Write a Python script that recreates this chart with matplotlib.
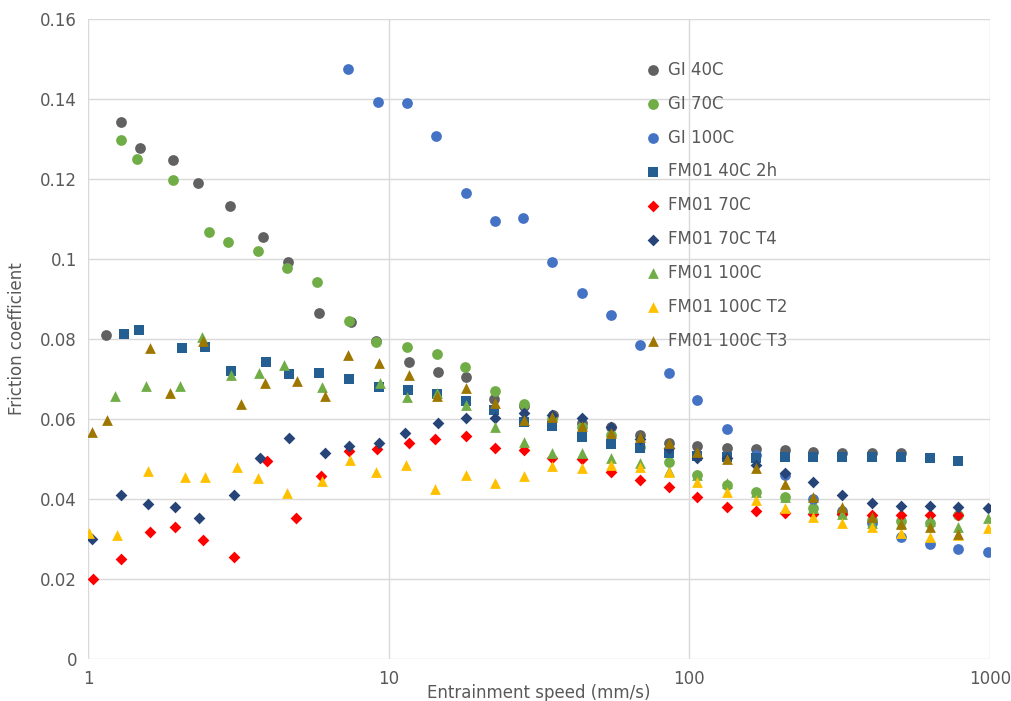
#!/usr/bin/env python3

import matplotlib
matplotlib.use("Agg")
import matplotlib.pyplot as plt
from matplotlib.ticker import FixedLocator, FuncFormatter

# DATA
gi40_x = [1.145, 1.285, 1.49, 1.92, 2.32, 2.97, 3.83, 4.63, 5.88, 7.47, 9.1, 11.66, 14.6, 18.1, 22.4,
          28.1, 35.1, 43.9, 54.9, 68.6, 85.6, 106, 133, 166, 208, 258, 323, 405, 505]
gi40_y = [0.081, 0.1343, 0.1277, 0.1247, 0.1189, 0.1132, 0.1055, 0.0992, 0.0864, 0.0842, 0.0796, 0.0742,
          0.0718, 0.0706, 0.0649, 0.0633, 0.061, 0.0589, 0.0581, 0.056, 0.0539, 0.0533, 0.0527, 0.0525,
          0.0522, 0.0518, 0.0516, 0.0514, 0.0514]

gi70_x = [1.29, 1.46, 1.92, 2.53, 2.92, 3.68, 4.58, 5.77, 7.37, 9.1, 11.5, 14.5, 17.9, 22.5, 28.1,
          35, 44, 55, 68.6, 85.6, 106, 133, 166, 208, 258, 323, 405, 505, 630, 785]
gi70_y = [0.1298, 0.1249, 0.1198, 0.1068, 0.1043, 0.1021, 0.0978, 0.0943, 0.0844, 0.0793, 0.0781,
          0.0763, 0.0729, 0.0671, 0.0638, 0.060, 0.058, 0.056, 0.053, 0.0492, 0.046, 0.0435, 0.0418,
          0.0406, 0.0378, 0.0365, 0.0348, 0.0345, 0.034, 0.036]

gi100_x = [7.33, 9.2, 11.5, 14.4, 18.1, 22.5, 28, 35, 44, 55, 68.6, 85.6, 106, 133, 166, 208, 258,
           323, 405, 505, 630, 785, 985]
gi100_y = [0.1475, 0.1393, 0.139, 0.1308, 0.1165, 0.1096, 0.1103, 0.0993, 0.0915, 0.086, 0.0785,
           0.0715, 0.0648, 0.0575, 0.051, 0.046, 0.040, 0.037, 0.034, 0.0306, 0.0288, 0.0276, 0.0267]

fm40_x = [1.32, 1.48, 2.06, 2.45, 3.0, 3.9, 4.66, 5.88, 7.37, 9.28, 11.6, 14.5, 18.1, 22.4, 28.1, 35,
          43.9, 54.9, 68.6, 85.6, 106, 133, 166, 208, 258, 323, 405, 505, 630, 785]
fm40_y = [0.0812, 0.0822, 0.0777, 0.0779, 0.0721, 0.0742, 0.0713, 0.0716, 0.0699, 0.0679, 0.0672,
          0.0663, 0.0646, 0.0623, 0.0593, 0.0583, 0.0556, 0.0537, 0.0527, 0.0516, 0.0508, 0.0506,
          0.0503, 0.0506, 0.0505, 0.0505, 0.0505, 0.0505, 0.0502, 0.0495]

fm70_x = [1.04, 1.29, 1.61, 1.94, 2.41, 3.05, 3.93, 4.92, 5.97, 7.38, 9.15, 11.7, 14.3, 18.1, 22.5,
          28.1, 35, 44, 55, 68.6, 85.6, 106, 133, 166, 208, 258, 323, 405, 505, 630, 785]
fm70_y = [0.0199, 0.025, 0.0317, 0.0331, 0.0297, 0.0255, 0.0495, 0.0353, 0.0458, 0.0521, 0.0525,
          0.0541, 0.0549, 0.0558, 0.0528, 0.0523, 0.0502, 0.050, 0.0467, 0.0448, 0.0429, 0.0404,
          0.0381, 0.037, 0.0364, 0.0362, 0.0362, 0.036, 0.036, 0.036, 0.036]

fm70t4_x = [1.03, 1.29, 1.58, 1.95, 2.34, 3.07, 3.73, 4.67, 6.13, 7.38, 9.3, 11.3, 14.6, 18.1, 22.5,
            28.1, 35, 44, 55, 68.6, 85.6, 106, 133, 166, 208, 258, 323, 405, 505, 630, 785, 985]
fm70t4_y = [0.0299, 0.041, 0.0388, 0.0379, 0.0353, 0.041, 0.0502, 0.0552, 0.0514, 0.0533, 0.0539,
            0.0564, 0.0591, 0.0602, 0.0602, 0.0614, 0.061, 0.0602, 0.0581, 0.055, 0.0527, 0.0502,
            0.0502, 0.0485, 0.0466, 0.0443, 0.041, 0.0389, 0.0383, 0.0382, 0.0381, 0.0378]

fm100_x = [1.23, 1.56, 2.02, 2.39, 2.99, 3.71, 4.49, 6.01, 9.35, 11.5, 14.5, 18.1, 22.5, 28.1, 35, 44,
           55, 68.6, 85.6, 106, 133, 166, 208, 258, 323, 405, 505, 630, 785, 985]
fm100_y = [0.0658, 0.0683, 0.0683, 0.0804, 0.071, 0.0714, 0.0735, 0.0679, 0.0689, 0.0656, 0.0664,
           0.0635, 0.0581, 0.0543, 0.0516, 0.0514, 0.0502, 0.0489, 0.047, 0.046, 0.0439, 0.0418,
           0.0406, 0.0378, 0.0362, 0.0339, 0.034, 0.0345, 0.0331, 0.0352]

fm100t2_x = [1.01, 1.25, 1.58, 2.1, 2.45, 3.14, 3.68, 4.6, 6.01, 7.43, 9.05, 11.4, 14.3, 18.1, 22.5,
             28.1, 35, 44, 55, 68.6, 85.6, 106, 133, 166, 208, 258, 323, 405, 505, 630, 785, 985]
fm100t2_y = [0.0316, 0.031, 0.0471, 0.0454, 0.0454, 0.0481, 0.0452, 0.0414, 0.0446, 0.0498, 0.0468,
             0.0485, 0.0424, 0.046, 0.0441, 0.0458, 0.0483, 0.0477, 0.0485, 0.0481, 0.0468, 0.0443,
             0.0418, 0.0398, 0.0377, 0.0356, 0.0339, 0.0331, 0.0314, 0.0306, 0.031, 0.0327]

fm100t3_x = [1.03, 1.16, 1.61, 1.88, 2.42, 3.23, 3.87, 4.96, 6.12, 7.34, 9.3, 11.7, 14.5, 18.1, 22.5,
             28.1, 35, 44, 55, 68.6, 85.6, 106, 133, 166, 208, 258, 323, 405, 505, 630, 785]
fm100t3_y = [0.0568, 0.0598, 0.0777, 0.0666, 0.0796, 0.0638, 0.0689, 0.0695, 0.0658, 0.076, 0.0741,
             0.071, 0.0658, 0.0677, 0.0639, 0.0598, 0.0606, 0.0583, 0.0566, 0.0556, 0.0539, 0.0518,
             0.0499, 0.0477, 0.0438, 0.0406, 0.0381, 0.0356, 0.0338, 0.0329, 0.0313]

series = [
    ("GI 40C", gi40_x, gi40_y, "o", "#616161"),
    ("GI 70C", gi70_x, gi70_y, "o", "#70AD47"),
    ("GI 100C", gi100_x, gi100_y, "o", "#4472C4"),
    ("FM01 40C 2h", fm40_x, fm40_y, "s", "#255E91"),
    ("FM01 70C", fm70_x, fm70_y, "D", "#FF0000"),
    ("FM01 70C T4", fm70t4_x, fm70t4_y, "D", "#264478"),
    ("FM01 100C", fm100_x, fm100_y, "^", "#70AD47"),
    ("FM01 100C T2", fm100t2_x, fm100t2_y, "^", "#FFC000"),
    ("FM01 100C T3", fm100t3_x, fm100t3_y, "^", "#9E7700"),
]
sizes = {"o": 60, "s": 55, "D": 36, "^": 60}

fig = plt.figure(figsize=(10.11, 7.01), dpi=100)
ax = fig.add_axes([88 / 1011, 42 / 701, 902 / 1011, 640 / 701])

for label, xs, ys, m, c in series:
    ax.scatter(xs, ys, marker=m, s=sizes[m], color=c, label=label, linewidths=0, zorder=3)

ax.set_xscale("log")
ax.set_xlim(1, 1000)
ax.set_ylim(0, 0.16)
ax.xaxis.set_major_locator(FixedLocator([1, 10, 100, 1000]))
ax.xaxis.set_minor_locator(FixedLocator([]))
ax.xaxis.set_major_formatter(FuncFormatter(lambda v, p: f"{v:g}"))
ax.set_yticks([0, 0.02, 0.04, 0.06, 0.08, 0.1, 0.12, 0.14, 0.16])
ax.yaxis.set_major_formatter(FuncFormatter(lambda v, p: f"{v:g}"))

ax.grid(True, color="#d9d9d9", linewidth=1, zorder=0)
for s in ax.spines.values():
    s.set_visible(False)
ax.tick_params(length=0, labelsize=12, colors="#595959", pad=8)

ax.set_xlabel("Entrainment speed (mm/s)", fontsize=12, color="#595959", labelpad=-3)
ax.set_ylabel("Friction coefficient", fontsize=12, color="#595959", labelpad=10)

ax.legend(loc="upper left", bbox_to_anchor=(0.6, 0.945), frameon=False, fontsize=12,
          labelcolor="#595959", handletextpad=-0.1, labelspacing=0.95, borderaxespad=0)

fig.savefig("out.png", dpi=100)
